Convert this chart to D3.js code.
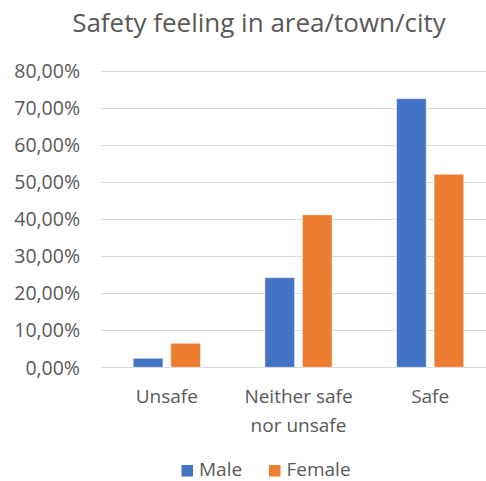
<!DOCTYPE html>
<html>
<head>
<meta charset="utf-8">
<script src="https://cdn.jsdelivr.net/npm/d3@7"></script>
<style>
  html, body { margin: 0; padding: 0; background: #fff; }
  svg { display: block; font-family: "Open Sans", sans-serif; }
</style>
</head>
<body>
<svg id="chart" width="486" height="481"></svg>
<script>
const title = "Safety feeling in area/town/city";
const categories = ["Unsafe", "Neither safe\nnor unsafe", "Safe"];
const seriesNames = ["Male", "Female"];
const maleValues = [0.024, 0.2415, 0.7245];
const femaleValues = [0.0645, 0.411, 0.5205];
const colors = ["#4472C4", "#ED7D31"];
const yTicks = [0, 0.1, 0.2, 0.3, 0.4, 0.5, 0.6, 0.7, 0.8];

const seriesValues = [maleValues, femaleValues];
const svg = d3.select("#chart");
const W = 486, H = 481;
const plot = { left: 101, right: 496, top: 70.7, bottom: 367.2 };

const y = d3.scaleLinear().domain([0, 0.8]).range([plot.bottom, plot.top]);
const x = d3.scaleBand().domain(categories).range([plot.left, plot.right])
  .paddingInner(0.49).paddingOuter(0.245);
const xs = d3.scaleBand().domain(seriesNames).range([0, x.bandwidth()]).paddingInner(0.21);

const fmt = v => d3.format(".2f")(v * 100).replace(".", ",") + "%";

// Title
svg.append("text")
  .attr("x", 259).attr("y", 31.5)
  .attr("text-anchor", "middle")
  .attr("font-size", 26)
  .attr("fill", "#595959")
  .text(title);

// Gridlines
svg.append("g").selectAll("line").data(yTicks).join("line")
  .attr("x1", plot.left).attr("x2", W)
  .attr("y1", d => Math.round(y(d)) + 0.5).attr("y2", d => Math.round(y(d)) + 0.5)
  .attr("stroke", "#D9D9D9").attr("stroke-width", 1);

// Y axis labels
const yAxis = d3.axisLeft(y).tickValues(yTicks).tickFormat(fmt).tickSize(0).tickPadding(0);
const yg = svg.append("g").attr("transform", "translate(80,0)").call(yAxis);
yg.select(".domain").remove();
yg.selectAll("text")
  .attr("font-family", "Open Sans, sans-serif")
  .attr("font-size", 19.5).attr("fill", "#595959").attr("dy", "0.35em");

// Bars
const groups = svg.append("g").selectAll("g").data(categories).join("g")
  .attr("transform", d => `translate(${x(d)},0)`);
groups.selectAll("rect").data((d, i) => seriesNames.map((s, j) => ({ s, j, v: seriesValues[j][i] })))
  .join("rect")
  .attr("x", d => xs(d.s))
  .attr("y", d => y(d.v))
  .attr("width", xs.bandwidth())
  .attr("height", d => y(0) - y(d.v))
  .attr("fill", d => colors[d.j])
  .attr("stroke", "#ffffff").attr("stroke-opacity", 0.45).attr("stroke-width", 1);

// X axis labels
const xg = svg.append("g");
categories.forEach(c => {
  const t = xg.append("text")
    .attr("x", x(c) + x.bandwidth() / 2).attr("y", 403)
    .attr("text-anchor", "middle").attr("font-size", 19).attr("fill", "#595959");
  c.split("\n").forEach((line, i) => {
    t.append("tspan").attr("x", x(c) + x.bandwidth() / 2).attr("dy", i === 0 ? 0 : 28.5).text(line);
  });
});

// Legend
const legendX = [181.5, 269];
const lg = svg.append("g");
seriesNames.forEach((s, i) => {
  lg.append("rect").attr("x", legendX[i]).attr("y", 465).attr("width", 11.5).attr("height", 11.5)
    .attr("fill", colors[i]);
  lg.append("text").attr("x", legendX[i] + 17.5).attr("y", 475.5)
    .attr("font-size", 19).attr("fill", "#595959").text(s);
});
</script>
</body>
</html>
